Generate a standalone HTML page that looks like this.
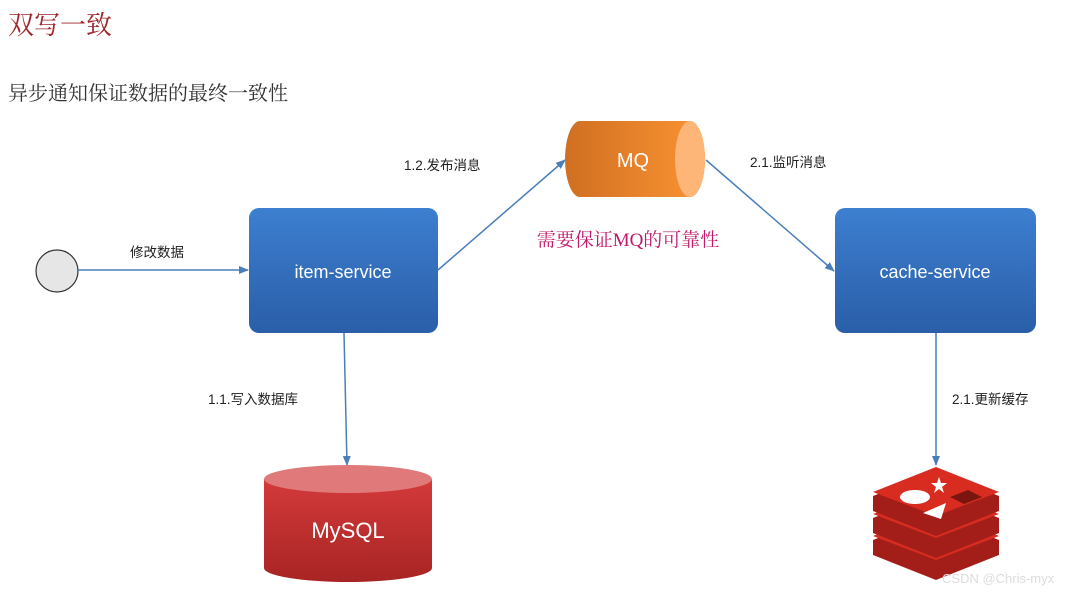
<!DOCTYPE html>
<html><head><meta charset="utf-8"><style>
html,body{margin:0;padding:0;background:#fff;width:1076px;height:595px;overflow:hidden}
text{font-family:"Liberation Sans","Noto Sans CJK SC",sans-serif}
.sf{font-family:"Liberation Serif","Noto Serif CJK SC",serif}
</style></head><body>
<svg width="1076" height="595" xmlns="http://www.w3.org/2000/svg">
<defs>
<linearGradient id="bl" x1="0" y1="0" x2="0" y2="1"><stop offset="0" stop-color="#3d7fd0"/><stop offset="1" stop-color="#2a5ea8"/></linearGradient>
<linearGradient id="or" x1="0" y1="0" x2="1" y2="0"><stop offset="0" stop-color="#d06f22"/><stop offset="1" stop-color="#fb9432"/></linearGradient>
<linearGradient id="rd" x1="0" y1="0" x2="0" y2="1"><stop offset="0" stop-color="#d43a3a"/><stop offset="1" stop-color="#a82424"/></linearGradient>
<marker id="ar" markerWidth="10" markerHeight="8" refX="9" refY="4" orient="auto" markerUnits="userSpaceOnUse"><path d="M0,0 L10,4 L0,8 z" fill="#4a7ebb"/></marker>
</defs>
<text class="sf" x="8" y="34" font-size="26" fill="#a0262a">双写一致</text>
<text class="sf" x="8" y="100" font-size="20" fill="#333">异步通知保证数据的最终一致性</text>
<circle cx="57" cy="271" r="21" fill="#e6e6e6" stroke="#333" stroke-width="1.2"/>
<line x1="78" y1="270" x2="248" y2="270" stroke="#4a7ebb" stroke-width="1.5" marker-end="url(#ar)"/>
<text x="130" y="257" font-size="13.5" fill="#222">修改数据</text>
<rect x="249" y="208" width="189" height="125" rx="10" fill="url(#bl)"/>
<text x="343" y="278" font-size="18" fill="#fff" text-anchor="middle">item-service</text>
<rect x="835" y="208" width="201" height="125" rx="10" fill="url(#bl)"/>
<text x="935" y="278" font-size="18" fill="#fff" text-anchor="middle">cache-service</text>
<line x1="438" y1="270" x2="565" y2="160" stroke="#4a7ebb" stroke-width="1.5" marker-end="url(#ar)"/>
<text x="404" y="170" font-size="13.5" fill="#222">1.2.发布消息</text>
<path d="M580,121 H690 A15,38 0 0 1 690,197 H580 A15,38 0 0 1 580,121 z" fill="url(#or)"/>
<ellipse cx="690" cy="159" rx="15" ry="38" fill="#fdb677"/>
<text x="633" y="167" font-size="20" fill="#fff" text-anchor="middle">MQ</text>
<line x1="706" y1="160" x2="834" y2="271" stroke="#4a7ebb" stroke-width="1.5" marker-end="url(#ar)"/>
<text x="750" y="167" font-size="13.5" fill="#222">2.1.监听消息</text>
<text class="sf" x="628" y="246" font-size="19" fill="#c0186a" text-anchor="middle">需要保证MQ的可靠性</text>
<line x1="344" y1="333" x2="347" y2="465" stroke="#4a7ebb" stroke-width="1.5" marker-end="url(#ar)"/>
<text x="208" y="404" font-size="13.5" fill="#222">1.1.写入数据库</text>
<path d="M264,479 V568 A84,14 0 0 0 432,568 V479 z" fill="url(#rd)"/>
<ellipse cx="348" cy="479" rx="84" ry="14" fill="#e07a7a"/>
<text x="348" y="538" font-size="22" fill="#fff" text-anchor="middle">MySQL</text>
<line x1="936" y1="333" x2="936" y2="465" stroke="#4a7ebb" stroke-width="1.5" marker-end="url(#ar)"/>
<text x="952" y="404" font-size="13.5" fill="#222">2.1.更新缓存</text>
<g>
<path d="M873,540 L936,515 L999,540 L999,555 L936,580 L873,555 z" fill="#a41e19"/>
<path d="M873,536 L936,511 L999,536 L936,560 z" fill="#d82c20"/>
<path d="M873,518 L936,493 L999,518 L999,533 L936,558 L873,533 z" fill="#a41e19"/>
<path d="M873,514 L936,489 L999,514 L936,538 z" fill="#d82c20"/>
<path d="M873,496 L936,471 L999,496 L999,511 L936,536 L873,511 z" fill="#a41e19"/>
<path d="M873,492 L936,467 L999,492 L936,516 z" fill="#d82c20"/>
<ellipse cx="915" cy="497" rx="15" ry="7" fill="#fff"/>
<path d="M923,513 L946,503 L941,519 z" fill="#fff"/>
<path d="M939,477 l2,6 6,0 -5,4 2,6 -5,-4 -5,4 2,-6 -5,-4 6,0z" fill="#fff"/>
<path d="M950,497 L968,490 L982,497 L964,504 z" fill="#7a1510"/>
</g>
<text x="942" y="583" font-size="13" fill="#ddd">CSDN @Chris-myx</text>
</svg>
</body></html>
